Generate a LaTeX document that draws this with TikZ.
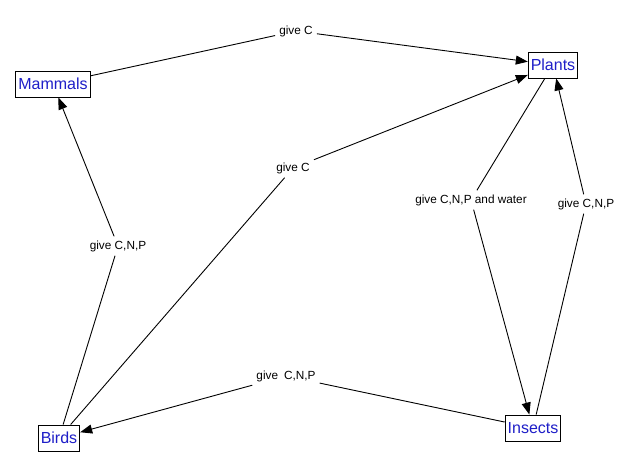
\documentclass[tikz,border=0pt]{standalone}
\usepackage{fontspec}
\setmainfont{Liberation Sans}
\usetikzlibrary{arrows.meta}
\definecolor{nodeblue}{RGB}{30,30,200}
\begin{document}
\begin{tikzpicture}[x=1pt,y=-1pt,
  box/.style={draw,line width=0.9pt,fill=white,text=nodeblue,font=\fontsize{16}{18}\selectfont,inner xsep=2.5pt,inner ysep=0pt,minimum height=26pt},
  lab/.style={font=\fontsize{11.8}{13}\selectfont,inner sep=4pt},
  edge/.style={draw,line width=0.9pt,-{Triangle[length=12pt,width=9pt]}}]
\useasboundingbox (0,0) rectangle (642,472);
\node[box] (mam) at (53,84) {Mammals};
\node[box] (pla) at (553,65) {Plants};
\node[box] (bir) at (59,438) {Birds};
\node[box] (ins) at (533,428) {Insects};
\node[lab] (l1) at (296,31) {give C};
\node[lab] (l2) at (293,168) {give C};
\node[lab] (l3) at (118,246) {give C,N,P};
\node[lab] (l4) at (471,200) {give C,N,P and water};
\node[lab] (l5) at (586,204) {give C,N,P};
\node[lab] (l6) at (286,376) {give\enspace C,N,P};
\path[edge] (mam) -- (l1) -- (pla);
\path[edge] (bir) -- (l2) -- (pla);
\path[edge] (bir) -- (l3) -- (mam);
\path[edge] (pla) -- (l4) -- (ins);
\path[edge] (ins) -- (l5) -- (pla);
\path[edge] (ins) -- (l6) -- (bir);
\end{tikzpicture}
\end{document}
